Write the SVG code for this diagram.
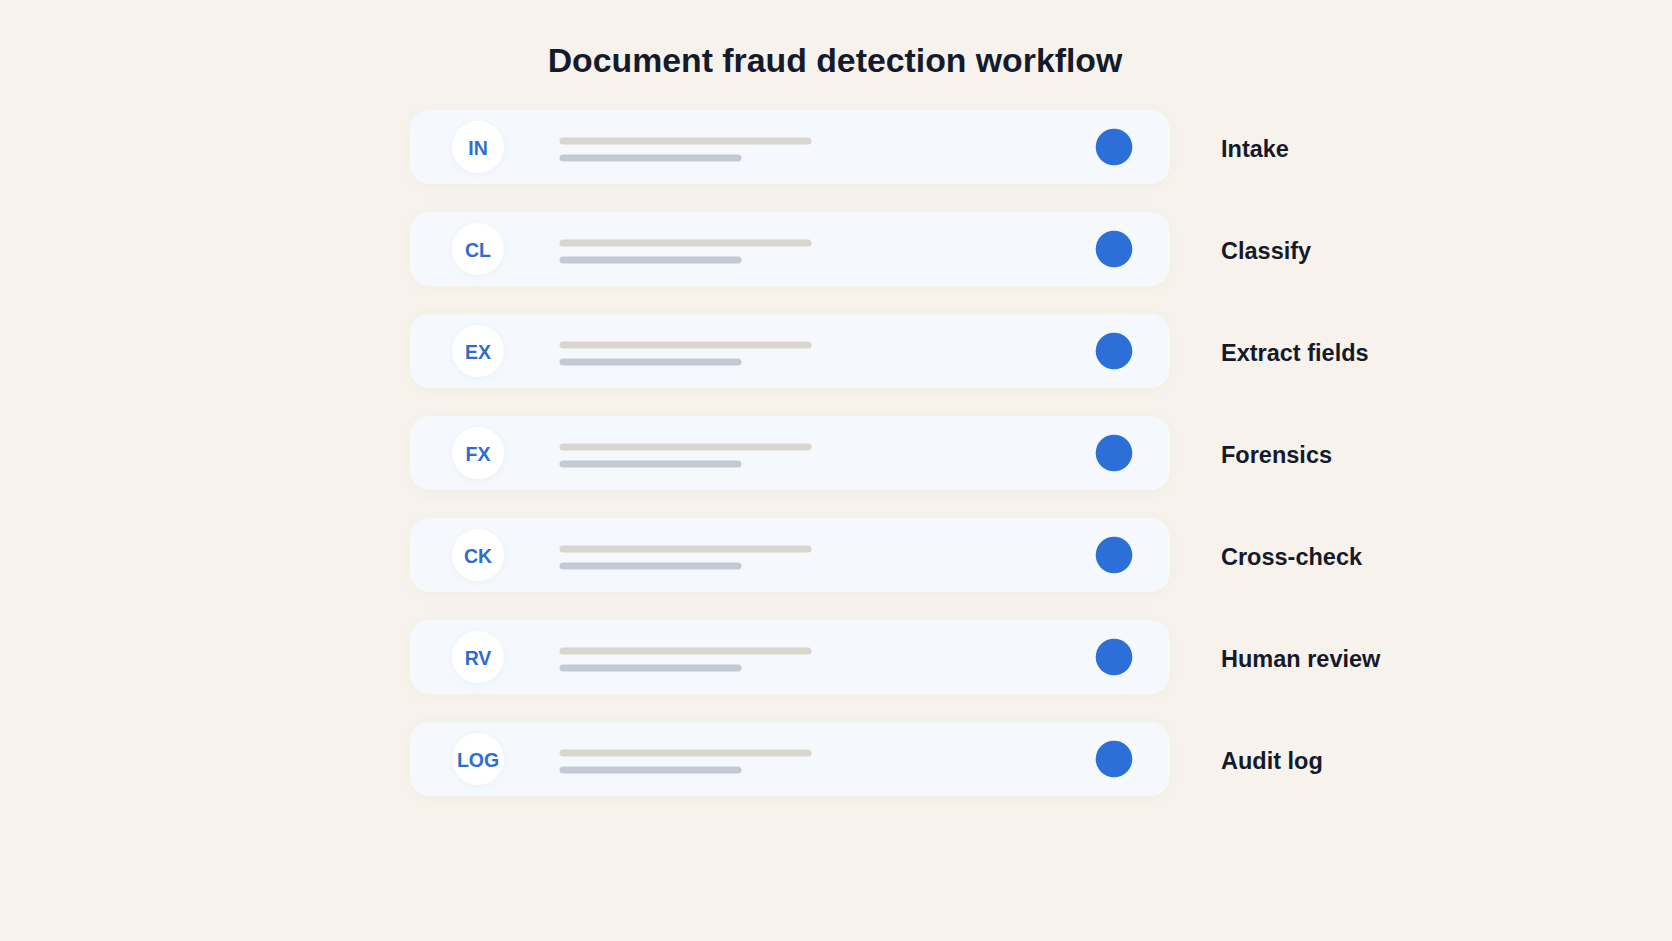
<svg xmlns="http://www.w3.org/2000/svg" width="1672" height="941" viewBox="0 0 1672 941">
<style>
.bg{fill:#f7f3ec}
.title{font-family:"Liberation Sans",Arial,sans-serif;font-weight:700;font-size:33.8px;fill:#141b2d}
.card{fill:#f5f9fd}
.badge{fill:#ffffff}
.code{font-family:"Liberation Sans",Arial,sans-serif;font-weight:700;font-size:19.5px;fill:#2f6dcc}
.l1{stroke:#d9d6cd;stroke-width:7;stroke-linecap:round}
.l2{stroke:#c3cad5;stroke-width:7;stroke-linecap:round}
.dot{fill:#2c6fd9}
.lbl{font-family:"Liberation Sans",Arial,sans-serif;font-weight:700;font-size:23.5px;fill:#141a2a}
</style>
<defs>
<filter id="sh" x="-10%" y="-30%" width="120%" height="160%">
<feDropShadow dx="0" dy="2" stdDeviation="5" flood-color="#8a7a5a" flood-opacity="0.05"/>
</filter>
<filter id="bsh" x="-40%" y="-40%" width="180%" height="180%">
<feDropShadow dx="0" dy="1" stdDeviation="3" flood-color="#dfe6ef" flood-opacity="0.5"/>
</filter>
</defs>
<rect class="bg" x="0" y="0" width="1672" height="941"/>
<text class="title" x="835" y="72" text-anchor="middle">Document fraud detection workflow</text>
<g id="connectors"></g>
<g id="node-in" transform="translate(0,110)">
<rect class="card" x="410" y="0" width="760" height="74" rx="20" filter="url(#sh)"/>
<circle class="badge" cx="478" cy="37" r="26" filter="url(#bsh)"/>
<text class="code" x="478" y="44.5" text-anchor="middle">IN</text>
<line class="l1" x1="563" y1="31" x2="808" y2="31"/>
<line class="l2" x1="563" y1="48" x2="738" y2="48"/>
<circle class="dot" cx="1114" cy="37" r="18.3"/>
<text class="lbl" x="1221" y="47">Intake</text>
</g>
<g id="node-cl" transform="translate(0,212)">
<rect class="card" x="410" y="0" width="760" height="74" rx="20" filter="url(#sh)"/>
<circle class="badge" cx="478" cy="37" r="26" filter="url(#bsh)"/>
<text class="code" x="478" y="44.5" text-anchor="middle">CL</text>
<line class="l1" x1="563" y1="31" x2="808" y2="31"/>
<line class="l2" x1="563" y1="48" x2="738" y2="48"/>
<circle class="dot" cx="1114" cy="37" r="18.3"/>
<text class="lbl" x="1221" y="47">Classify</text>
</g>
<g id="node-ex" transform="translate(0,314)">
<rect class="card" x="410" y="0" width="760" height="74" rx="20" filter="url(#sh)"/>
<circle class="badge" cx="478" cy="37" r="26" filter="url(#bsh)"/>
<text class="code" x="478" y="44.5" text-anchor="middle">EX</text>
<line class="l1" x1="563" y1="31" x2="808" y2="31"/>
<line class="l2" x1="563" y1="48" x2="738" y2="48"/>
<circle class="dot" cx="1114" cy="37" r="18.3"/>
<text class="lbl" x="1221" y="47">Extract fields</text>
</g>
<g id="node-fx" transform="translate(0,416)">
<rect class="card" x="410" y="0" width="760" height="74" rx="20" filter="url(#sh)"/>
<circle class="badge" cx="478" cy="37" r="26" filter="url(#bsh)"/>
<text class="code" x="478" y="44.5" text-anchor="middle">FX</text>
<line class="l1" x1="563" y1="31" x2="808" y2="31"/>
<line class="l2" x1="563" y1="48" x2="738" y2="48"/>
<circle class="dot" cx="1114" cy="37" r="18.3"/>
<text class="lbl" x="1221" y="47">Forensics</text>
</g>
<g id="node-ck" transform="translate(0,518)">
<rect class="card" x="410" y="0" width="760" height="74" rx="20" filter="url(#sh)"/>
<circle class="badge" cx="478" cy="37" r="26" filter="url(#bsh)"/>
<text class="code" x="478" y="44.5" text-anchor="middle">CK</text>
<line class="l1" x1="563" y1="31" x2="808" y2="31"/>
<line class="l2" x1="563" y1="48" x2="738" y2="48"/>
<circle class="dot" cx="1114" cy="37" r="18.3"/>
<text class="lbl" x="1221" y="47">Cross-check</text>
</g>
<g id="node-rv" transform="translate(0,620)">
<rect class="card" x="410" y="0" width="760" height="74" rx="20" filter="url(#sh)"/>
<circle class="badge" cx="478" cy="37" r="26" filter="url(#bsh)"/>
<text class="code" x="478" y="44.5" text-anchor="middle">RV</text>
<line class="l1" x1="563" y1="31" x2="808" y2="31"/>
<line class="l2" x1="563" y1="48" x2="738" y2="48"/>
<circle class="dot" cx="1114" cy="37" r="18.3"/>
<text class="lbl" x="1221" y="47">Human review</text>
</g>
<g id="node-log" transform="translate(0,722)">
<rect class="card" x="410" y="0" width="760" height="74" rx="20" filter="url(#sh)"/>
<circle class="badge" cx="478" cy="37" r="26" filter="url(#bsh)"/>
<text class="code" x="478" y="44.5" text-anchor="middle">LOG</text>
<line class="l1" x1="563" y1="31" x2="808" y2="31"/>
<line class="l2" x1="563" y1="48" x2="738" y2="48"/>
<circle class="dot" cx="1114" cy="37" r="18.3"/>
<text class="lbl" x="1221" y="47">Audit log</text>
</g>
</svg>
